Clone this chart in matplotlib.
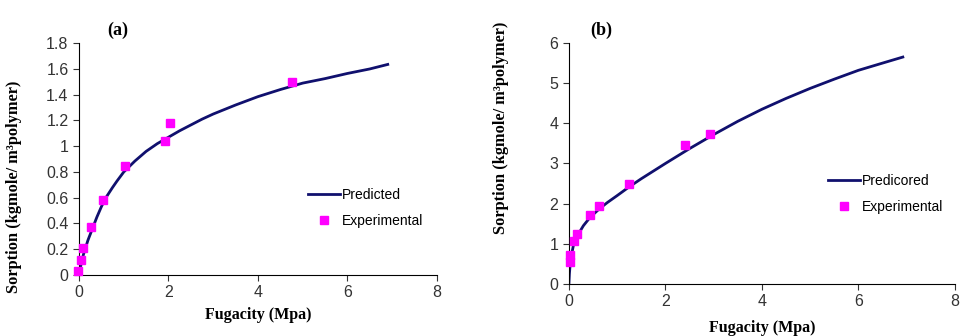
import matplotlib.pyplot as plt

a_pred_x = [0.0, 0.02, 0.05, 0.1, 0.2, 0.3, 0.4, 0.5, 0.6, 0.75, 0.85, 1.0, 1.25, 1.5, 1.75, 2.0, 2.25,
            2.5, 2.75, 3.0, 3.5, 4.0, 4.5, 5.0, 5.5, 6.0, 6.5, 6.9]
a_pred_y = [0.0, 0.04, 0.09, 0.16, 0.27, 0.36, 0.45, 0.53, 0.60, 0.68, 0.73, 0.80, 0.885, 0.96, 1.02, 1.07, 1.12,
            1.165, 1.21, 1.25, 1.32, 1.385, 1.44, 1.49, 1.525, 1.565, 1.60, 1.635]
a_exp_x = [-0.03, 0.045, 0.10, 0.27, 0.53, 1.02, 1.93, 2.03, 4.77]
a_exp_y = [0.03, 0.12, 0.21, 0.37, 0.58, 0.85, 1.04, 1.18, 1.50]

# panel (b)
b_pred_x = [0.0, 0.01, 0.02, 0.05, 0.1, 0.2, 0.3, 0.44, 0.63, 0.8, 1.0, 1.24, 1.5, 2.0, 2.5, 3.0, 3.5,
            4.0, 4.5, 5.0, 5.5, 6.0, 6.5, 6.92]
b_pred_y = [0.0, 0.25, 0.40, 0.70, 1.00, 1.25, 1.45, 1.66, 1.87, 2.03, 2.20, 2.41, 2.62, 3.00, 3.37, 3.72, 4.05,
            4.35, 4.62, 4.87, 5.10, 5.32, 5.50, 5.65]
b_exp_x = [0.02, 0.02, 0.11, 0.17, 0.44, 0.63, 1.24, 2.40, 2.92]
b_exp_y = [0.54, 0.73, 1.06, 1.25, 1.72, 1.94, 2.48, 3.45, 3.73]

LINE = "#10106e"
MARK = "#ff00ff"
SERIF = "Liberation Serif"
plt.rcParams["font.family"] = "Liberation Sans"

fig = plt.figure(figsize=(9.61, 3.36), dpi=100)
ax_a = fig.add_axes([0.0822, 0.1815, 0.3725, 0.690])
ax_b = fig.add_axes([0.592, 0.155, 0.4017, 0.717])

panels = [
    (ax_a, a_pred_x, a_pred_y, a_exp_x, a_exp_y, "Predicted", (0, 1.8),
     [0, 0.2, 0.4, 0.6, 0.8, 1, 1.2, 1.4, 1.6, 1.8], "(a)", 0.08, (0.605, 0.43), (-0.16, 0.38), -0.14),
    (ax_b, b_pred_x, b_pred_y, b_exp_x, b_exp_y, "Predicored", (0, 6),
     [0, 1, 2, 3, 4, 5, 6], "(b)", 0.055, (0.64, 0.51), (-0.156, 0.65), -0.15),
]

for ax, px, py, ex, ey, lab, ylim, yticks, title, tx, legpos, ylabpos, xlaby in panels:
    ax.plot(px, py, color=LINE, lw=2, label=lab, zorder=2)
    ax.plot(ex, ey, ls="none", marker="s", ms=6, color=MARK, mec=MARK,
            label="Experimental", clip_on=False, zorder=3)
    ax.set_xlim(0, 8)
    ax.set_ylim(*ylim)
    ax.set_xticks([0, 2, 4, 6, 8])
    ax.set_xticklabels(["0", "2", "4", "6", "8"])
    ax.set_yticks(yticks)
    ax.set_yticklabels([f"{v:g}" for v in yticks])
    for s in ("top", "right"):
        ax.spines[s].set_visible(False)
    ax.tick_params(direction="out", length=4, labelsize=11.5, colors="#333333")
    ax.set_xlabel("Fugacity (Mpa)", fontfamily=SERIF, fontweight="bold", fontsize=11.5)
    ax.xaxis.set_label_coords(0.5, xlaby)
    ax.set_ylabel("Sorption (kgmole/ m³polymer)", fontfamily=SERIF, fontweight="bold", fontsize=11.8)
    ax.yaxis.set_label_coords(*ylabpos)
    ax.set_title(title, fontfamily=SERIF, fontweight="bold", fontsize=13, loc="left", x=tx, pad=6)
    ax.legend(loc="upper left", bbox_to_anchor=legpos, frameon=False, fontsize=10,
              handlelength=2.3, handletextpad=0.1, labelspacing=0.9)

fig.savefig("out.png", dpi=100)
